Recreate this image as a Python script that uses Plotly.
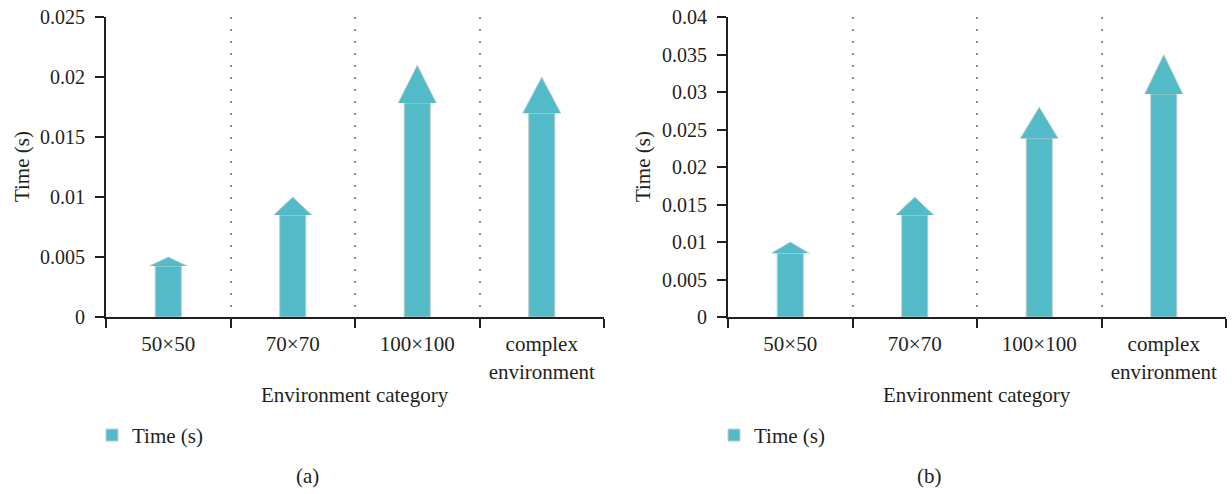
import plotly.graph_objects as go

# ---- data ----
categories = ["50×50", "70×70", "100×100", "complex<br>environment"]
time_a = [0.005, 0.010, 0.021, 0.020]
time_b = [0.010, 0.016, 0.028, 0.035]
yticks_a = [0, 0.005, 0.01, 0.015, 0.02, 0.025]
yticks_b = [0, 0.005, 0.01, 0.015, 0.02, 0.025, 0.03, 0.035, 0.04]
series_name = "Time (s)"
x_title = "Environment category"
panel_labels = ["(a)", "(b)"]

# ---- style ----
W, H = 1232, 494
BODY = 8                 # default html body margin
PAGE_H = H + 2 * BODY    # full page height that gets fitted into the picture
FILL = "#53BBC8"
EDGE = "#c3cdd0"
AXIS = "#231F20"
FONT = "Liberation Serif"
FS = 21
FS_Y = 20
SHAFT_HW = 0.105
HEAD_HW = 0.153
HEAD_FRAC = 0.15

xpos = list(range(len(categories)))


def head_xy(values):
    xs, ys = [], []
    for i, v in zip(xpos, values):
        hb = v * (1 - HEAD_FRAC)
        xs += [i - HEAD_HW, i, i + HEAD_HW, None]
        ys += [hb, v, hb, None]
    return xs, ys


fig = go.Figure()

for vals, xa, ya, leg in [(time_a, "x", "y", "legend"), (time_b, "x2", "y2", "legend2")]:
    fig.add_trace(go.Bar(
        x=xpos, y=[v * (1 - HEAD_FRAC) for v in vals], width=2 * SHAFT_HW,
        marker=dict(color=FILL, line=dict(color=EDGE, width=1)),
        name=series_name, legend=leg, xaxis=xa, yaxis=ya, hoverinfo="skip"))
    hx, hy = head_xy(vals)
    fig.add_trace(go.Scatter(
        x=hx, y=hy, mode="lines", fill="toself", fillcolor=FILL,
        line=dict(color=EDGE, width=1), showlegend=False,
        xaxis=xa, yaxis=ya, hoverinfo="skip"))

# picture pixel -> paper fraction
px = lambda p: p / W
py = lambda p: 1 - (p * PAGE_H / H - BODY) / H

ydom = [py(318), py(14)]
xdom_a = [px(106), px(604)]
xdom_b = [px(728), px(1226)]

bounds = [-0.5, 0.5, 1.5, 2.5, 3.5]

def xaxis_cfg(domain, anchor):
    return dict(
        domain=domain, anchor=anchor, range=[-0.5, 3.5],
        tickmode="array", tickvals=xpos,
        ticktext=categories, ticks="", showgrid=False, zeroline=False,
        showline=True, linecolor=AXIS, linewidth=2,
        tickfont=dict(family=FONT, size=FS, color=AXIS),
        ticklabelstandoff=7, ticklabeloverflow="allow",
        minor=dict(tickmode="array", tickvals=bounds, ticks="outside",
                   ticklen=9, tickwidth=2, tickcolor=AXIS,
                   showgrid=True, gridcolor="#8f8f8f", gridwidth=1.5,
                   griddash="2px,10px"),
        fixedrange=True,
    )

def yaxis_cfg(domain, anchor, ticks):
    return dict(
        domain=domain, anchor=anchor, range=[0, ticks[-1]],
        tickmode="array", tickvals=ticks,
        ticktext=[("%g" % t) for t in ticks],
        ticks="outside", ticklen=9, tickwidth=2, tickcolor=AXIS,
        showline=True, linecolor=AXIS, linewidth=2,
        showgrid=False, zeroline=False,
        tickfont=dict(family=FONT, size=FS_Y, color=AXIS),
        ticklabelstandoff=6, ticklabeloverflow="allow",
        fixedrange=True,
    )

annotations = []
for xc, lab in [((106 + 604) / 2, panel_labels[0]), ((728 + 1226) / 2, panel_labels[1])]:
    annotations.append(dict(x=px(xc), y=py(397), xref="paper", yref="paper",
                            text=x_title, showarrow=False,
                            font=dict(family=FONT, size=FS, color=AXIS),
                            xanchor="center", yanchor="middle"))
    annotations.append(dict(x=px(xc - 48), y=py(479), xref="paper", yref="paper",
                            text=lab, showarrow=False,
                            font=dict(family=FONT, size=FS, color=AXIS),
                            xanchor="center", yanchor="middle"))
for xt in [22, 643]:
    annotations.append(dict(x=px(xt), y=py(166), xref="paper", yref="paper",
                            text=series_name, showarrow=False, textangle=-90,
                            font=dict(family=FONT, size=FS, color=AXIS),
                            xanchor="center", yanchor="middle"))

legend_common = dict(
    orientation="h", xanchor="left", yanchor="middle",
    font=dict(family=FONT, size=FS, color=AXIS),
    bgcolor="rgba(0,0,0,0)", itemwidth=30, tracegroupgap=0,
)

fig.update_layout(
    width=W, height=H,
    margin=dict(l=0, r=0, t=0, b=0),
    paper_bgcolor="white", plot_bgcolor="white",
    showlegend=True,
    xaxis=xaxis_cfg(xdom_a, "y"),
    yaxis=yaxis_cfg(ydom, "x", yticks_a),
    xaxis2=xaxis_cfg(xdom_b, "y2"),
    yaxis2=yaxis_cfg(ydom, "x2", yticks_b),
    legend=dict(x=px(92), y=py(438), **legend_common),
    legend2=dict(x=px(714), y=py(438), **legend_common),
    annotations=annotations,
)

fig.write_html("out.html")
